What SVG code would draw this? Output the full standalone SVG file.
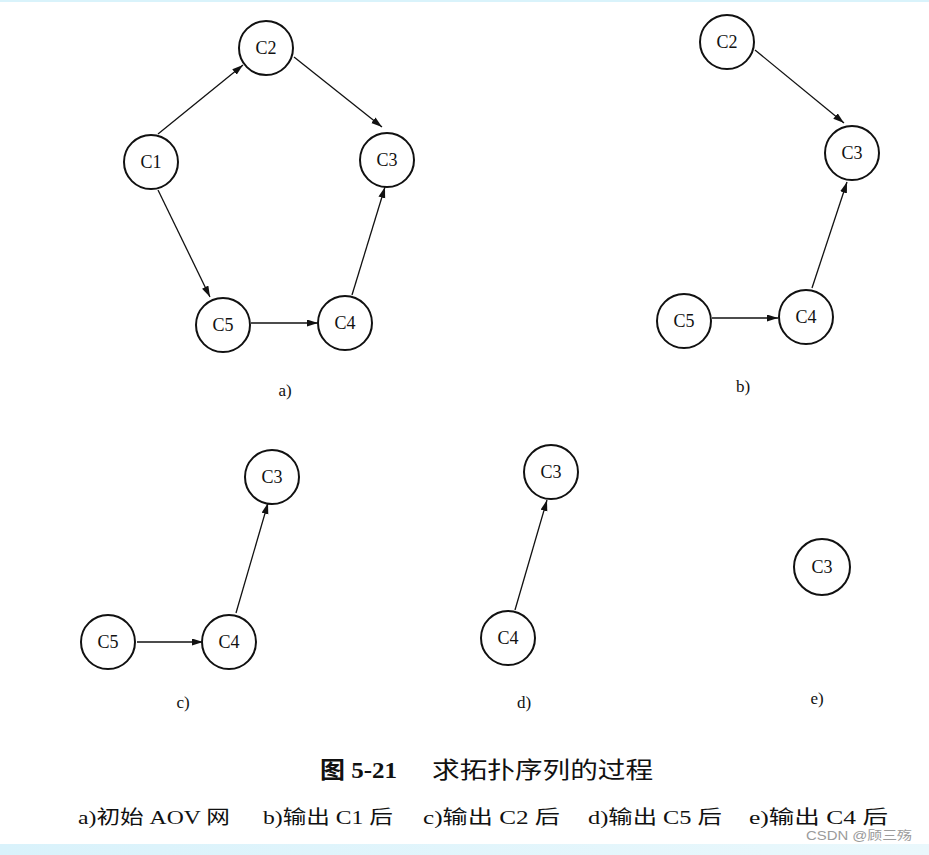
<svg xmlns="http://www.w3.org/2000/svg" width="929" height="855" viewBox="0 0 929 855">
<style>
.node circle{fill:#fff;stroke:#111;stroke-width:2}
.node text{font-family:"Liberation Serif",serif;font-size:18px;fill:#111;text-anchor:middle;dominant-baseline:central}
.edges line{stroke:#111;stroke-width:1.3;marker-end:url(#arr)}
.lab{font-family:"Liberation Serif",serif;font-size:17px;fill:#111;text-anchor:middle}
.cap{font-family:"Liberation Serif","Noto Sans CJK SC",serif;fill:#111}
</style>
<defs>
<marker id="arr" markerUnits="userSpaceOnUse" markerWidth="11" markerHeight="8" refX="11" refY="3.5" orient="auto">
<path d="M0,0 L11,3.5 L0,7 z" fill="#111"/>
</marker>
<linearGradient id="band" x1="0" y1="0" x2="1" y2="0">
<stop offset="0" stop-color="#d9f2fb"/>
<stop offset="1" stop-color="#eaf8fc"/>
</linearGradient>
</defs>
<rect width="929" height="855" fill="#fff"/>
<rect x="0" y="0" width="929" height="2" fill="#d9f3fb"/>
<rect x="0" y="844" width="929" height="11" fill="url(#band)"/>

<g id="edges" class="edges">
<line x1="158" y1="134" x2="243" y2="65"/>
<line x1="294" y1="57" x2="382" y2="127"/>
<line x1="158" y1="190" x2="210" y2="297"/>
<line x1="251" y1="323" x2="318" y2="323"/>
<line x1="352" y1="295" x2="385" y2="187"/>
<line x1="755" y1="50" x2="844" y2="123"/>
<line x1="712" y1="318" x2="778" y2="318"/>
<line x1="812" y1="288" x2="847" y2="182"/>
<line x1="137" y1="642" x2="203" y2="642"/>
<line x1="236" y1="613" x2="268" y2="503"/>
<line x1="515" y1="610" x2="547" y2="500"/>
</g>

<g id="a-C1" class="node"><circle cx="151" cy="162" r="27"/><text x="151" y="162">C1</text></g>
<g id="a-C2" class="node"><circle cx="266" cy="48" r="27"/><text x="266" y="48">C2</text></g>
<g id="a-C3" class="node"><circle cx="387" cy="160" r="27"/><text x="387" y="160">C3</text></g>
<g id="a-C5" class="node"><circle cx="223" cy="325" r="27"/><text x="223" y="325">C5</text></g>
<g id="a-C4" class="node"><circle cx="345" cy="323" r="27"/><text x="345" y="323">C4</text></g>

<g id="b-C2" class="node"><circle cx="727" cy="42" r="27"/><text x="727" y="42">C2</text></g>
<g id="b-C3" class="node"><circle cx="852" cy="153" r="27"/><text x="852" y="153">C3</text></g>
<g id="b-C5" class="node"><circle cx="684" cy="321" r="27"/><text x="684" y="321">C5</text></g>
<g id="b-C4" class="node"><circle cx="806" cy="317" r="27"/><text x="806" y="317">C4</text></g>

<g id="c-C3" class="node"><circle cx="272" cy="477" r="27"/><text x="272" y="477">C3</text></g>
<g id="c-C5" class="node"><circle cx="108" cy="642" r="27"/><text x="108" y="642">C5</text></g>
<g id="c-C4" class="node"><circle cx="229" cy="642" r="27"/><text x="229" y="642">C4</text></g>

<g id="d-C3" class="node"><circle cx="551" cy="472" r="27"/><text x="551" y="472">C3</text></g>
<g id="d-C4" class="node"><circle cx="508" cy="638" r="27"/><text x="508" y="638">C4</text></g>

<g id="e-C3" class="node"><circle cx="822" cy="567" r="28"/><text x="822" y="567">C3</text></g>

<text class="lab" x="285" y="396">a)</text>
<text class="lab" x="743" y="392">b)</text>
<text class="lab" x="183" y="708">c)</text>
<text class="lab" x="524" y="708">d)</text>
<text class="lab" x="817" y="704">e)</text>

<text class="cap" x="320" y="778" font-size="23" font-weight="bold" textLength="77" lengthAdjust="spacingAndGlyphs">图 5-21</text>
<text class="cap" x="432" y="778" font-size="23" textLength="221" lengthAdjust="spacingAndGlyphs">求拓扑序列的过程</text>

<text class="cap" x="78" y="824" font-size="19" textLength="152" lengthAdjust="spacingAndGlyphs">a)初始 AOV 网</text>
<text class="cap" x="263" y="824" font-size="19" textLength="130" lengthAdjust="spacingAndGlyphs">b)输出 C1 后</text>
<text class="cap" x="423" y="824" font-size="19" textLength="137" lengthAdjust="spacingAndGlyphs">c)输出 C2 后</text>
<text class="cap" x="588" y="824" font-size="19" textLength="134" lengthAdjust="spacingAndGlyphs">d)输出 C5 后</text>
<text class="cap" x="749" y="824" font-size="19" textLength="139" lengthAdjust="spacingAndGlyphs">e)输出 C4 后</text>

<text x="806" y="840" font-family="Liberation Sans,'Noto Sans CJK SC',sans-serif" font-size="12" fill="#9a9a9a" textLength="106" lengthAdjust="spacingAndGlyphs">CSDN @顾三殇</text>
</svg>
